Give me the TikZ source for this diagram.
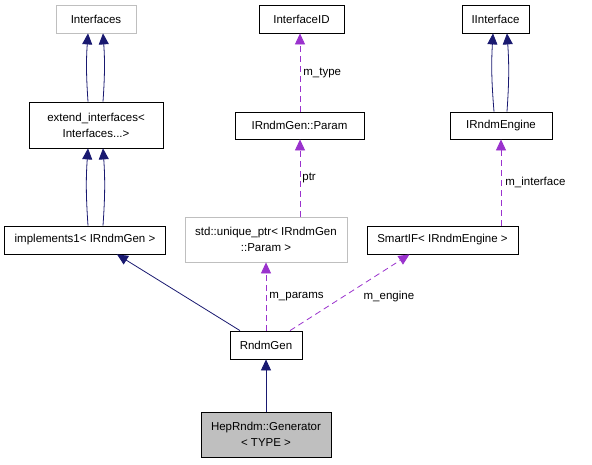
\documentclass[tikz,border=0pt]{standalone}
\usepackage{fontspec}
\setmainfont{Liberation Sans}
\usetikzlibrary{arrows.meta,positioning}

\definecolor{inhcol}{HTML}{191970}
\definecolor{usecol}{HTML}{9A32CD}
\definecolor{ghost}{HTML}{BFBFBF}

\begin{document}
\begin{tikzpicture}[x=1pt,y=-1pt]
\tikzset{every node/.style={font=\fontsize{11.5}{16}\selectfont,inner sep=0pt,align=center},
  cls/.style={draw=black,thick,minimum height=28pt},
  ext/.style={draw=ghost,thick,minimum height=28pt},
  inh/.style={draw=inhcol,thick,-{Triangle[length=11pt,width=10pt]}},
  use/.style={draw=usecol,thick,dashed,dash pattern=on 6pt off 4pt,-{Triangle[length=11pt,width=10pt,fill=usecol]}},
  lbl/.style={anchor=west}}
\useasboundingbox (0,0) rectangle (592,464);
% classes
\node [ext,minimum width=80pt] (ifaces) at (96,19) {Interfaces};
\node [cls,minimum width=134pt,minimum height=46pt] (extend) at (96,125) {extend\_interfaces<\\ Interfaces...>};
\node [cls,minimum width=161pt] (impl) at (85,240) {implements1< IRndmGen >};
\node [cls,minimum width=85pt] (ifid) at (301.5,19) {InterfaceID};
\node [cls,minimum width=129pt,minimum height=27pt] (param) at (299.5,125.5) {IRndmGen::Param};
\node [ext,minimum width=162pt,minimum height=45pt] (uptr) at (266,239.5) {std::unique\_ptr< IRndmGen\\ ::Param >};
\node [cls,minimum width=67pt] (iiface) at (495.5,19) {IInterface};
\node [cls,minimum width=102pt,minimum height=27pt] (engine) at (501,125.5) {IRndmEngine};
\node [cls,minimum width=151pt] (smartif) at (442.5,240) {SmartIF< IRndmEngine >};
\node [cls,minimum width=72pt] (rndm) at (266,345) {RndmGen};
\node [cls,fill=ghost,minimum width=130pt,minimum height=45pt] (hep) at (266,434.5) {HepRndm::Generator\\ < TYPE >};
% inheritance
\draw [inh] ([xshift=-8pt]extend.north) to[bend left=4] ([xshift=-8pt]ifaces.south);
\draw [inh] ([xshift=7pt]extend.north) to[bend right=4] ([xshift=7pt]ifaces.south);
\draw [inh] ([xshift=3pt]impl.north) to[bend left=4] ([xshift=-8pt]extend.south);
\draw [inh] ([xshift=18pt]impl.north) to[bend right=4] ([xshift=7pt]extend.south);
\draw [inh] ([xshift=-7pt]engine.north) to[bend left=4] ([xshift=-2.5pt]iiface.south);
\draw [inh] ([xshift=6pt]engine.north) to[bend right=4] ([xshift=11.5pt]iiface.south);
\draw [inh] ([xshift=-26pt]rndm.north) -- ([xshift=32pt]impl.south);
\draw [inh] (hep) -- (rndm);
% usage
\draw [use] ([xshift=0.5pt]param.north) -- node[lbl,xshift=3pt] {m\_type} ([xshift=0.5pt]param.north |- ifid.south);
\draw [use] ([xshift=0.5pt]param.south |- uptr.north) -- node[lbl,xshift=2pt] {ptr} ([xshift=0.5pt]param.south);
\draw [use] (rndm) -- node[lbl,xshift=3pt] {m\_params} (uptr);
\draw [use] ([xshift=24pt]rndm.north) -- node[lbl,pos=0.5,xshift=13.5pt,yshift=-4.5pt] {m\_engine} ([xshift=-33pt]smartif.south);
\draw [use] (engine.south |- smartif.north) -- node[lbl,xshift=4pt] {m\_interface} (engine.south);
\end{tikzpicture}
\end{document}
